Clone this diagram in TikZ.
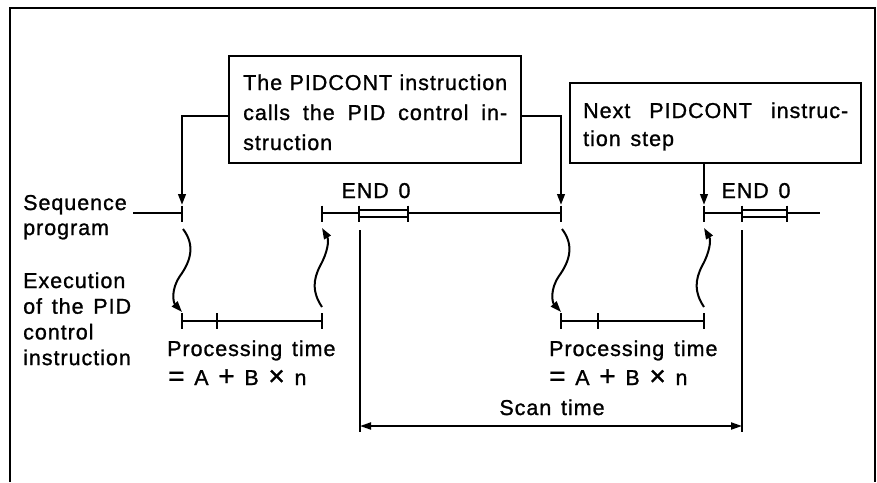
\documentclass[tikz,border=0pt]{standalone}
\usepackage{fontspec}
\usepackage{graphicx}
\setmainfont{Liberation Sans}[LetterSpace=4.5,WordSpace=1.4,FakeBold=1.1]
\usetikzlibrary{arrows.meta}
\newcommand{\bigsym}[1]{\raisebox{-0.5pt}{\fontsize{28}{28}\selectfont #1}}
\begin{document}
\begin{tikzpicture}[x=1pt,y=-1pt,
  ln/.style={line width=2.4pt},
  thin/.style={line width=2pt},
  tip/.style={-{Triangle[length=11pt,width=7.5pt]}},
  tips/.style={{Triangle[length=11pt,width=7pt]}-{Triangle[length=11pt,width=7pt]}},
  lbl/.style={font=\fontsize{21.5}{25}\selectfont, inner sep=0pt},
  box/.style={draw, line width=1.8pt, inner sep=0pt, anchor=north west}]
\useasboundingbox (0,0) rectangle (877,482);
% frame
\draw[line width=2.4pt] (10,482) -- (10,8) -- (875,8) -- (875,482);

% boxes
\node[box, minimum width=292pt, minimum height=107pt] (b1) at (228,55) {};
\node[box, minimum width=291pt, minimum height=80pt] (b2) at (569,82) {};
\node[lbl, anchor=base west] (t1) at (243,90) {\parbox[t]{264pt}{\fontsize{21.5}{30}\selectfont
  \makebox[264pt][s]{The PIDCONT instruction}\\
  \makebox[264pt][s]{calls the PID control in-}\\
  struction}};
\node[lbl, anchor=base west] (t2) at (583,118) {\parbox[t]{265pt}{\fontsize{21.5}{28}\selectfont
  \makebox[265pt][s]{Next PIDCONT instruc-}\\
  tion step}};

% key points
\coordinate (s0) at (133,213);
\coordinate (s1) at (182,213);
\coordinate (s2) at (322,213);
\coordinate (s3) at (561,213);
\coordinate (s4) at (704,213);
\coordinate (s5) at (820,213);
\coordinate (e1) at (182,321);
\coordinate (e2) at (322,321);
\coordinate (e3) at (561,321);
\coordinate (e4) at (704,321);

% sequence program line
\draw[ln] (s0) -- (s1);
\draw[ln] (s2) -- (359,213);
\draw[ln] (408,213) -- (s3);
\draw[thin] (359,209.5) rectangle (408,216.5);
\draw[ln] (s4) -- (742,213);
\draw[ln] (787,213) -- (s5);
\draw[thin] (742,209.5) rectangle (787,216.5);
\foreach \x in {182,322,359,408,561,704,742,787}
  \draw[ln] (\x,205.5) -- (\x,222);

% execution lines
\draw[ln] (e1) -- (e2);
\draw[ln] (e3) -- (e4);
\foreach \x in {182,217,322,561,598,704}
  \draw[ln] (\x,313) -- (\x,328.5);

% arrows from boxes
\draw[ln, tip] ([yshift=-6.5pt]b1.west) -| ([yshift=8pt]s1);
\draw[ln, tip] ([yshift=-6.5pt]b1.east) -| ([yshift=8pt]s3);
\draw[ln, tip] (b2.south -| s4) -- ([yshift=8pt]s4);

% wavy arrows
\draw[thin, tip] (183,229) .. controls (196,246) and (190,262) .. (180,276)
   .. controls (171,289) and (173,302) .. ([yshift=9pt]e1);
\draw[thin, tip] (322,307) .. controls (312,292) and (313,280) .. (320,266)
   .. controls (328,252) and (329,240) .. ([yshift=-15pt]s2);
\draw[thin, tip] (562,229) .. controls (575,246) and (569,262) .. (559,276)
   .. controls (550,289) and (552,302) .. ([yshift=9pt]e3);
\draw[thin, tip] (704,307) .. controls (694,292) and (695,280) .. (702,266)
   .. controls (710,252) and (711,240) .. ([yshift=-15pt]s4);

% scan time
\draw[ln] (360,230) -- (360,432);
\draw[ln] (742,230) -- (742,432);
\draw[thin, tips] (360,426) -- (742,426);

% labels
\node[lbl, anchor=base west] (seq) at (23,210) {\parbox[t]{140pt}{\fontsize{21.5}{25}\selectfont Sequence\\program}};
\node[lbl, anchor=base west] (exe) at (23,288) {\parbox[t]{140pt}{\fontsize{21.5}{25.7}\selectfont Execution\\of the PID\\control\\instruction}};
\node[lbl, anchor=base] (end1) at (376,198) {END 0};
\node[lbl, anchor=base] (end2) at (756,198) {END 0};
\node[lbl, anchor=base west] (p1) at (167,356) {Processing time};
\node[lbl, anchor=base west] (f1) at (168,385) {\bigsym{=} A \bigsym{+} B \bigsym{×} n};
\node[lbl, anchor=base west] (p2) at (549,356) {Processing time};
\node[lbl, anchor=base west] (f2) at (549,385) {\bigsym{=} A \bigsym{+} B \bigsym{×} n};
\node[lbl, anchor=base] (scan) at (552,415) {Scan time};
\end{tikzpicture}
\end{document}
